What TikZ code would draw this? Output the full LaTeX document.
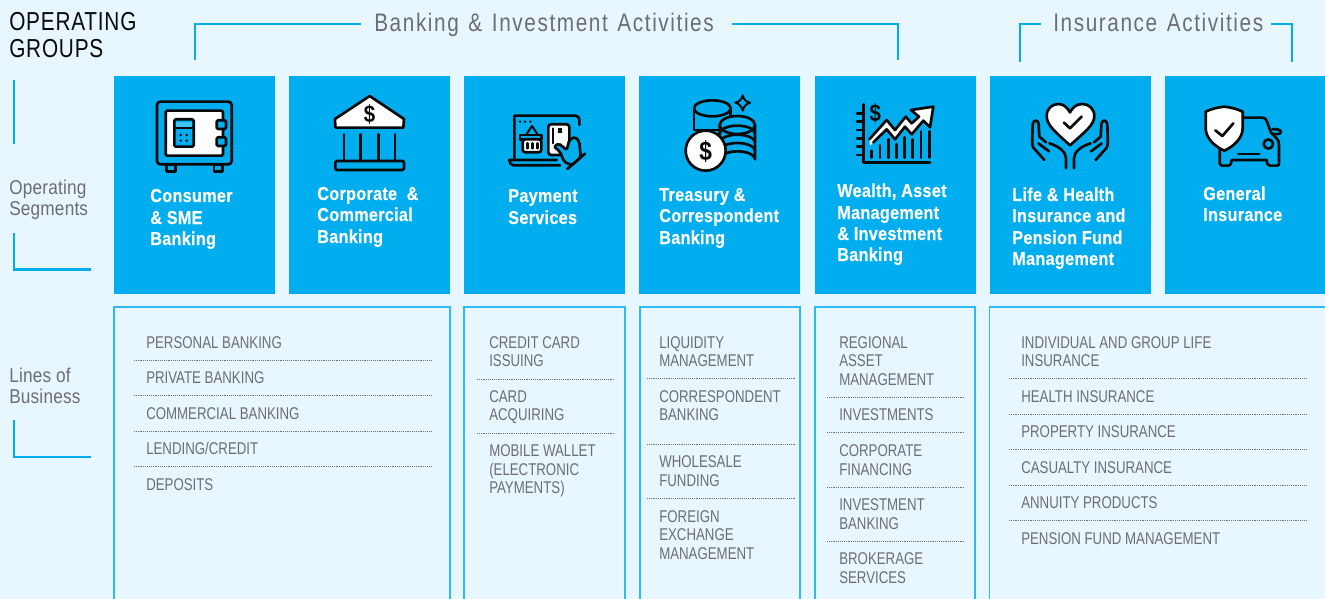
\documentclass[tikz,border=0pt]{standalone}
\usepackage{fontspec}
\setmainfont{Liberation Sans}
\newfontfamily\titlefam[FakeStretch=0.8,LetterSpace=3]{Liberation Sans}
\newfontfamily\headfam[FakeStretch=0.82,LetterSpace=6.3,WordSpace=1.3]{Liberation Sans}
\newfontfamily\sidefam[FakeStretch=0.86,LetterSpace=1]{Liberation Sans}
\newfontfamily\lobfam[FakeStretch=0.78]{Liberation Sans}
\newfontfamily\segfam[FakeStretch=0.87,LetterSpace=1.5,FakeBold=0.3]{Liberation Sans Bold}
\newfontfamily\dolfam[FakeStretch=0.85]{Liberation Sans Bold}
\definecolor{bgc}{HTML}{E8F7FF}
\definecolor{cyanc}{HTML}{00AEEF}
\definecolor{edgec}{HTML}{2DBBF2}
\definecolor{greyc}{HTML}{6D6E71}
\definecolor{inkc}{HTML}{0A0A0A}
\tikzset{
  titletxt/.style={anchor=base west,inner sep=0,text=inkc,font=\titlefam\fontsize{19.5}{20}\selectfont},
  headtxt/.style={anchor=base west,inner sep=0,text=greyc,font=\headfam\fontsize{19}{20}\selectfont},
  sidetxt/.style={anchor=base west,inner sep=0,text=greyc,font=\sidefam\fontsize{15}{16}\selectfont},
  lobtxt/.style={anchor=base west,inner sep=0,text=greyc,font=\lobfam\fontsize{12.75}{15}\selectfont},
  segtxt/.style={anchor=base west,inner sep=0,text=white,font=\segfam\fontsize{14}{16}\selectfont},
  segbox/.style={fill=cyanc,draw=none},
  lobbox/.style={draw=edgec,line width=1.1pt},
  bracket/.style={draw=cyanc,line width=1.9pt},
  sep/.style={draw=greyc,line width=0.55pt,dash pattern=on 0.7pt off 0.7pt},
  zoomed/.style={x=0.25pt,y=-0.25pt},
  ink/.style={draw=inkc,line width=2pt,line cap=round,line join=round},
  inkthin/.style={draw=inkc,line width=1.5pt,line cap=round,line join=round},
  dollar/.style={inner sep=0,text=inkc,font=\dolfam\fontsize{18}{18}\selectfont},
}
\begin{document}
\begin{tikzpicture}[x=0.75pt,y=-0.75pt]
\useasboundingbox (0,0) rectangle (1325,599);
\clip (0,0) rectangle (1325,599);
\fill[bgc] (0,0) rectangle (1325,599);

% titles
\node[titletxt] (t1) at (9,31) {OPERATING};
\node[titletxt] (t2) at (9,58) {GROUPS};
\node[headtxt] (hb) at (374,32) {Banking \& Investment Activities};
\node[headtxt] (hi) at (1053,32) {Insurance Activities};
\node[sidetxt] (s1) at (9,195) {Operating};
\node[sidetxt] (s2) at (9,216) {Segments};
\node[sidetxt] (s3) at (9,382) {Lines of};
\node[sidetxt] (s4) at (9,403) {Business};

% brackets
\draw[bracket] (195,60) -- (195,24) -- (361,24);
\draw[bracket] (732,24) -- (898,24) -- (898,60);
\draw[bracket] (1020,62) -- (1020,24) -- (1041,24);
\draw[bracket] (1271,24) -- (1292,24) -- (1292,62);
\draw[bracket] (14,80) -- (14,144);
\draw[bracket] (14,233) -- (14,269.5) -- (91,269.5);
\draw[bracket] (14,420) -- (14,457) -- (91,457);

% segment boxes
\fill[segbox] (114,76) rectangle (275,294);
\fill[segbox] (289,76) rectangle (450,294);
\fill[segbox] (464,76) rectangle (625,294);
\fill[segbox] (639,76) rectangle (800,294);
\fill[segbox] (815,76) rectangle (976,294);
\fill[segbox] (990,76) rectangle (1151,294);
\fill[segbox] (1165,76) rectangle (1325,294);

% segment labels
\node[segtxt] (a1) at (150,202) {Consumer};
\node[segtxt] (a2) at (150,224) {\& SME};
\node[segtxt] (a3) at (150,245) {Banking};
\node[segtxt] (b1) at (317,200) {Corporate\ \ \&};
\node[segtxt] (b2) at (317,221) {Commercial};
\node[segtxt] (b3) at (317,243) {Banking};
\node[segtxt] (c1) at (508,202) {Payment};
\node[segtxt] (c2) at (508,224) {Services};
\node[segtxt] (d1) at (659,201) {Treasury \&};
\node[segtxt] (d2) at (659,222) {Correspondent};
\node[segtxt] (d3) at (659,244) {Banking};
\node[segtxt] (e1) at (837,197) {Wealth, Asset};
\node[segtxt] (e2) at (837,219) {Management};
\node[segtxt] (e3) at (837,240) {\& Investment};
\node[segtxt] (e4) at (837,261) {Banking};
\node[segtxt] (f1) at (1012,201) {Life \& Health};
\node[segtxt] (f2) at (1012,222) {Insurance and};
\node[segtxt] (f3) at (1012,244) {Pension Fund};
\node[segtxt] (f4) at (1012,265) {Management};
\node[segtxt] (g1) at (1203,200) {General};
\node[segtxt] (g2) at (1203,221) {Insurance};

% lines-of-business boxes
\draw[lobbox] (114,601) -- (114,307) -- (450,307) -- (450,601);
\draw[lobbox] (464,601) -- (464,307) -- (625,307) -- (625,601);
\draw[lobbox] (640,601) -- (640,307) -- (800,307) -- (800,601);
\draw[lobbox] (815,601) -- (815,307) -- (975,307) -- (975,601);
\draw[lobbox] (989.5,601) -- (989.5,307) -- (1328,307);

% column 1
\node[lobtxt] (l11) at (146,348) {PERSONAL BANKING};
\node[lobtxt] (l12) at (146,383) {PRIVATE BANKING};
\node[lobtxt] (l13) at (146,419) {COMMERCIAL BANKING};
\node[lobtxt] (l14) at (146,454) {LENDING/CREDIT};
\node[lobtxt] (l15) at (146,490) {DEPOSITS};
\foreach \y in {360,395,431,466} \draw[sep] (134,\y) -- (432,\y);
% column 2
\node[lobtxt] (l21) at (489,348) {CREDIT CARD};
\node[lobtxt] (l22) at (489,366) {ISSUING};
\node[lobtxt] (l23) at (489,402) {CARD};
\node[lobtxt] (l24) at (489,420) {ACQUIRING};
\node[lobtxt] (l25) at (489,456) {MOBILE WALLET};
\node[lobtxt] (l26) at (489,475) {(ELECTRONIC};
\node[lobtxt] (l27) at (489,493) {PAYMENTS)};
\foreach \y in {379,433} \draw[sep] (477,\y) -- (615,\y);
% column 3
\node[lobtxt] (l31) at (659,348) {LIQUIDITY};
\node[lobtxt] (l32) at (659,366) {MANAGEMENT};
\node[lobtxt] (l33) at (659,402) {CORRESPONDENT};
\node[lobtxt] (l34) at (659,420) {BANKING};
\node[lobtxt] (l35) at (659,467) {WHOLESALE};
\node[lobtxt] (l36) at (659,486) {FUNDING};
\node[lobtxt] (l37) at (659,522) {FOREIGN};
\node[lobtxt] (l38) at (659,540) {EXCHANGE};
\node[lobtxt] (l39) at (659,559) {MANAGEMENT};
\foreach \y in {378,444,498} \draw[sep] (647,\y) -- (796,\y);
% column 4
\node[lobtxt] (l41) at (839,348) {REGIONAL};
\node[lobtxt] (l42) at (839,366) {ASSET};
\node[lobtxt] (l43) at (839,385) {MANAGEMENT};
\node[lobtxt] (l44) at (839,420) {INVESTMENTS};
\node[lobtxt] (l45) at (839,456) {CORPORATE};
\node[lobtxt] (l46) at (839,475) {FINANCING};
\node[lobtxt] (l47) at (839,510) {INVESTMENT};
\node[lobtxt] (l48) at (839,529) {BANKING};
\node[lobtxt] (l49) at (839,564) {BROKERAGE};
\node[lobtxt] (l40) at (839,583) {SERVICES};
\foreach \y in {397,432,487,541} \draw[sep] (827,\y) -- (965,\y);
% column 5
\node[lobtxt] (l51) at (1021,348) {INDIVIDUAL AND GROUP LIFE};
\node[lobtxt] (l52) at (1021,366) {INSURANCE};
\node[lobtxt] (l53) at (1021,402) {HEALTH INSURANCE};
\node[lobtxt] (l54) at (1021,437) {PROPERTY INSURANCE};
\node[lobtxt] (l55) at (1021,473) {CASUALTY INSURANCE};
\node[lobtxt] (l56) at (1021,508) {ANNUITY PRODUCTS};
\node[lobtxt] (l57) at (1021,544) {PENSION FUND MANAGEMENT};
\foreach \y in {378,414,449,485,520} \draw[sep] (1009,\y) -- (1307,\y);

% ---- icon: safe
\begin{scope}[shift={(0,0)},zoomed]
\draw[ink] (500,495) rectangle (526,514);
\draw[ink] (642,495) rectangle (668,514);
\draw[ink,rounded corners=2.5pt] (471,305) rectangle (695,493);
\draw[ink,fill=white,rounded corners=1pt] (497,332) rectangle (669,467);
\draw[ink,fill=cyanc,rounded corners=1pt] (523,358) rectangle (581,440);
\fill[white!25!cyanc] (528,365) rectangle (576,382);
\draw[inkthin] (525,385) -- (579,385);
\foreach \dx in {542,560} \foreach \dy in {405,422} \fill[inkc] (\dx,\dy) circle (4);
\draw[ink,fill=cyanc,rounded corners=1pt] (650,361) rectangle (678,387);
\draw[ink,fill=cyanc,rounded corners=1pt] (650,412) rectangle (678,438);
\end{scope}

% ---- icon: bank
\begin{scope}[shift={(320,85)},zoomed]
\draw[ink,fill=white] (149,33) -- (252,102) -- (250,128) -- (46,128) -- (45,102) -- cycle;
\node[dollar] (i2) at (149,87) {\$};
\foreach \cx in {72,121,175,225} \draw[ink] (\cx,148) -- (\cx,226);
\draw[ink,fill=cyanc,rounded corners=1pt] (46,228) rectangle (252,255);
\end{scope}

% ---- icon: payment
\begin{scope}[shift={(460,80)},zoomed]
\draw[ink] (358,135) -- (358,118) to[rounded corners=3pt] (358,107) -- (163,107) -- (163,238);
\draw[ink] (300,256) -- (160,256) to[out=180,in=270] (148,240) -- (290,240);
\foreach \dx in {180,195,211} \fill[inkc] (\dx,125) circle (4);
\draw[inkthin] (200,162) -- (216,138) -- (232,162);
\draw[ink,fill=cyanc] (180,165) -- (244,165) -- (244,178) -- (180,178) -- cycle;
\draw[ink,fill=white,rounded corners=2pt] (188,178) rectangle (244,217);
\foreach \dx in {203,218,233} \draw[ink] (\dx,190) -- (\dx,205);
\draw[ink,fill=white,rounded corners=2pt] (265,133) rectangle (328,225);
\draw[inkthin] (280,145) -- (280,190);
\fill[inkc] (293,145) rectangle (307,159);
\draw[ink,fill=cyanc,rounded corners=1.5pt] (282,200) -- (296,190) -- (320,210) -- (328,180) -- (345,170) -- (358,185) -- (362,232) -- (335,256) -- (312,245) -- (300,215) -- cycle;
\draw[ink] (375,221) -- (322,267);
\end{scope}

% ---- icon: coins
\begin{scope}[shift={(460,80)},zoomed]
\draw[ink,fill=cyanc] (702,85) -- (702,150) -- (812,150) -- (812,85);
\draw[ink,fill=cyanc] (757,85) ellipse (55 and 24);
\draw[ink,fill=cyanc] (779,135) -- (779,238) arc (180:360:53 and 24) -- (885,135);
\draw[ink,fill=cyanc] (832,135) ellipse (53 and 27);
\foreach \ay in {161,188,213} \draw[ink] (779,\ay) arc (180:360:53 and 24);
\draw[ink,fill=white] (737,212) circle (60);
\node[dollar,font=\dolfam\fontsize{20}{20}\selectfont] (i4) at (737,214) {\$};
\draw[inkthin,fill=cyanc] (848,46) .. controls (852,60) and (858,65) .. (870,68) .. controls (858,72) and (852,78) .. (848,92) .. controls (844,78) and (838,72) .. (826,68) .. controls (838,65) and (844,60) .. (848,46) -- cycle;
\end{scope}

% ---- icon: chart
\begin{scope}[shift={(815,80)},zoomed]
\draw[ink] (145,73) -- (145,248) -- (345,248);
\foreach \ty in {100,125,150,175,200,225} \draw[ink] (126,\ty) -- (145,\ty);
\node[dollar] (i5) at (181,100) {\$};
\foreach \bx/\by in {170/212,195/196,220/178,245/192,268/172,293/178,318/154,343/154} \draw[ink] (\bx,\by) -- (\bx,233);
\fill[white] (163,178) -- (215,120) -- (240,150) -- (272,110) -- (290,130) -- (312,110) -- (288,90) -- (355,80) -- (345,142) -- (325,122) -- (290,163) -- (270,140) -- (240,178) -- (215,148) -- (165,197) -- cycle;
\draw[ink] (163,178) -- (215,120) -- (240,150) -- (272,110) -- (290,130) -- (312,110) -- (288,90) -- (355,80) -- (345,142) -- (325,122) -- (290,163) -- (270,140) -- (240,178) -- (215,148) -- (175,187);
\end{scope}

% ---- icon: heart and hands
\begin{scope}[shift={(815,80)},zoomed]
\draw[ink,fill=white] (765,196) .. controls (720,155) and (695,135) .. (695,108) .. controls (695,85) and (712,72) .. (730,72) .. controls (745,72) and (757,82) .. (765,97) .. controls (773,82) and (785,72) .. (802,72) .. controls (820,72) and (838,85) .. (838,108) .. controls (838,135) and (810,155) .. (765,196) -- cycle;
\draw[ink] (747,128) -- (765,145) -- (800,110);
\foreach \m in {1,-1} {
\begin{scope}[shift={(765,0)},xscale=\m]
\draw[ink] (-77,240) -- (-110,203) .. controls (-115,195) and (-113,180) .. (-112,133) .. controls (-110,118) and (-95,118) .. (-94,133) -- (-92,170) -- (-72,187);
\draw[ink] (-95,190) -- (-63,214);
\draw[ink] (-12,265) -- (-12,235) .. controls (-12,215) and (-35,198) .. (-62,190);
\end{scope}}
\end{scope}

% ---- icon: shield and car
\begin{scope}[shift={(815,80)},zoomed]
\draw[ink] (1283,113) -- (1340,113) .. controls (1350,113) and (1354,118) .. (1356,125) -- (1368,158) -- (1384,174) .. controls (1390,180) and (1392,185) .. (1392,195) -- (1392,250) .. controls (1392,255) and (1390,257) .. (1385,257) -- (1365,257) .. controls (1358,257) and (1356,252) .. (1355,240) -- (1250,240) .. controls (1248,252) and (1246,257) .. (1240,257) -- (1222,257) .. controls (1216,257) and (1214,253) .. (1214,248) -- (1214,205);
\draw[ink] (1270,222) -- (1333,222);
\draw[ink,fill=cyanc] (1360,192) circle (14);
\draw[ink,fill=cyanc] (1372,148) .. controls (1378,146) and (1398,148) .. (1398,156) .. controls (1398,163) and (1378,165) .. (1370,160);
\draw[ink,fill=white] (1228,80) .. controls (1245,82) and (1265,86) .. (1283,95) -- (1283,145) .. controls (1283,175) and (1255,200) .. (1228,212) .. controls (1200,200) and (1172,175) .. (1172,145) -- (1172,95) .. controls (1190,86) and (1210,82) .. (1228,80) -- cycle;
\draw[ink] (1201,151) -- (1222,168) -- (1255,130);
\end{scope}
\end{tikzpicture}
\end{document}
